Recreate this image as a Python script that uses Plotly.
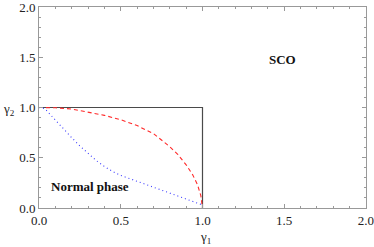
import plotly.graph_objects as go

# Data
boundary_x = [0.0, 1.0, 1.0]
boundary_y = [1.0, 1.0, 0.0]

red_x = [0.0, 0.1, 0.2, 0.3, 0.4, 0.5, 0.6, 0.7, 0.8, 0.85, 0.9, 0.94, 0.97, 0.99, 1.0]
red_y = [1.0, 0.997, 0.985, 0.957, 0.922, 0.878, 0.82, 0.74, 0.61, 0.53, 0.43, 0.33, 0.23, 0.12, 0.0]

blue_x = [0.0, 0.035, 0.1, 0.15, 0.2, 0.25, 0.3, 0.35, 0.4, 0.45, 0.5, 0.6, 0.7, 0.8, 0.9, 0.98, 1.0]
blue_y = [1.0, 0.99, 0.875, 0.785, 0.70, 0.617, 0.54, 0.472, 0.413, 0.364, 0.324, 0.262, 0.207, 0.148, 0.092, 0.045, 0.03]

tick_vals = [0.0, 0.5, 1.0, 1.5, 2.0]
tick_text = ["0.0", "0.5", "1.0", "1.5", "2.0"]

serif = "Liberation Serif, Times New Roman, serif"

fig = go.Figure()
fig.add_trace(go.Scatter(x=boundary_x, y=boundary_y, mode="lines",
                         line=dict(color="#4a4a4a", width=1.2), showlegend=False))
fig.add_trace(go.Scatter(x=red_x, y=red_y, mode="lines",
                         line=dict(color="#ff2a2a", width=1.1, dash="4px,3px"), showlegend=False))
fig.add_trace(go.Scatter(x=blue_x, y=blue_y, mode="lines",
                         line=dict(color="#3a3aff", width=1.1, dash="1px,3px"), showlegend=False))

axis_common = dict(
    showgrid=False, zeroline=False, showline=True, linecolor="#999999", linewidth=1,
    mirror="ticks", ticks="inside", ticklen=4, tickcolor="#999999", tickwidth=1,
    tickvals=tick_vals, ticktext=tick_text, automargin=False, ticklabeloverflow="allow",
    tickfont=dict(family=serif, size=13, color="#222222"),
    minor=dict(ticks="inside", dtick=0.1, ticklen=2, tickcolor="#999999", tickwidth=1),
)

fig.update_xaxes(range=[-0.0001, 2.0001], **axis_common)
fig.update_yaxes(range=[-0.0001, 2.0001], **axis_common)

fig.add_annotation(x=1.49, y=1.48, xref="x", yref="y", text="<b>SCO</b>", showarrow=False,
                   font=dict(family=serif, size=13, color="#111111"))
fig.add_annotation(x=0.31, y=0.21, xref="x", yref="y", text="<b>Normal phase</b>", showarrow=False,
                   font=dict(family=serif, size=13, color="#111111"))
fig.add_annotation(x=-0.092, y=0.488, xref="paper", yref="paper", text="γ<sub>2</sub>", showarrow=False,
                   xanchor="center", yanchor="middle",
                   font=dict(family=serif, size=13, color="#222222"))
fig.add_annotation(x=0.508, y=-0.149, xref="paper", yref="paper", text="γ<sub>1</sub>", showarrow=False,
                   xanchor="center", yanchor="middle",
                   font=dict(family=serif, size=13, color="#222222"))

fig.update_layout(
    width=374, height=247,
    margin=dict(l=39, r=8, t=7, b=39),
    plot_bgcolor="white", paper_bgcolor="white",
)

fig.write_html("out.html", config={"displayModeBar": False},
               post_script="document.body.style.margin='0';document.body.style.overflow='hidden';")
